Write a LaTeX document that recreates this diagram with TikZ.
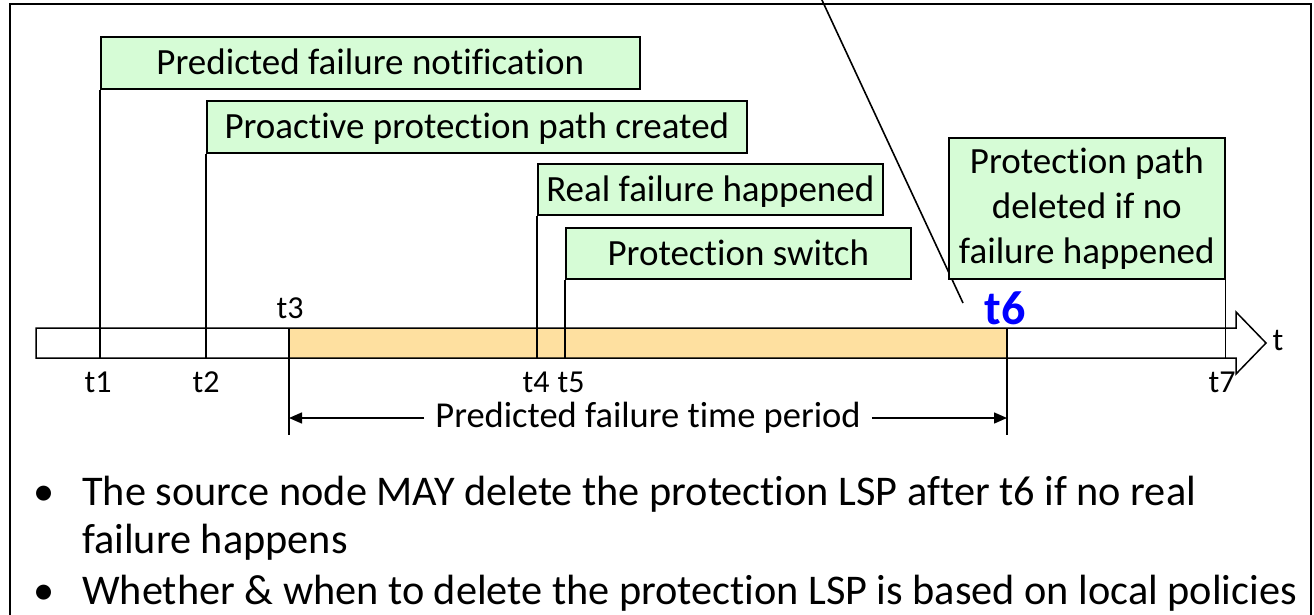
\documentclass[tikz,border=0pt]{standalone}
\usepackage{fontspec}
\setmainfont{Carlito}[Ligatures={NoCommon,NoContextual}]
\usetikzlibrary{arrows.meta}
\definecolor{boxgreen}{RGB}{214,252,214}
\definecolor{periodfill}{RGB}{254,224,160}
\definecolor{tsix}{RGB}{0,0,255}
\begin{document}
\begin{tikzpicture}[x=1pt,y=-1pt,
  event/.style={draw=black, line width=1.6pt, fill=boxgreen, inner sep=0pt,
    anchor=north west, font=\fontsize{37}{45}\selectfont,
    text height=27pt, text depth=3.2pt},
  eventtall/.style={draw=black, line width=1.6pt, fill=boxgreen, inner sep=0pt,
    anchor=north west, align=center, font=\fontsize{37}{45}\selectfont},
  tick/.style={line width=1.3pt},
  tlabel/.style={inner sep=0pt, font=\fontsize{32}{36}\selectfont},
  bullettext/.style={inner sep=0pt, anchor=base west, font=\fontsize{42.3}{48}\selectfont}]
\useasboundingbox (0,0) rectangle (1314,615);

% outer frame, open at the bottom
\draw[line width=1.5pt] (10,620) -- (10,4) -- (1311,4) -- (1311,620);

% pointer line from above
\coordinate (ptop) at (821,-2);
\coordinate (pend) at (963,303);
\draw[line width=1.6pt] (ptop) -- (pend);

% event boxes
\node[event, minimum width=539pt, minimum height=52pt] (b1) at (100,36) {Predicted failure notification};
\node[event, minimum width=540pt, minimum height=52pt] (b2) at (206,100) {Proactive protection path created};
\node[event, minimum width=345pt, minimum height=51pt] (b3) at (537,163) {Real failure happened};
\node[event, minimum width=345pt, minimum height=51pt] (b4) at (565,227) {Protection switch};
\node[eventtall, minimum width=276pt, minimum height=141pt] (b5) at (948,137) {Protection path\\deleted if no\\failure happened};

% time axis
\coordinate (bartop) at (0,328);
\coordinate (barbot) at (0,358);
\coordinate (t3) at (289,328);
\coordinate (t6) at (1007,328);
\fill[periodfill] (t3) rectangle (1007,358);
\draw[line width=1.5pt, line join=miter]
  (36,328) -- (1236,328) -- (1236,312) -- (1266,343) -- (1236,374)
  -- (1236,358) -- (36,358) -- cycle;

% event ticks
\draw[tick] (b1.south west) -- (b1.south west |- barbot);
\draw[tick] (b2.south west) -- (b2.south west |- barbot);
\draw[tick] (b3.south west) -- (b3.south west |- barbot);
\draw[tick] (b4.south west) -- (b4.south west |- barbot);
\draw[tick] (b5.south east) -- (b5.south east |- barbot);
\coordinate (t3b) at (289,435);
\coordinate (t6b) at (1007,435);
\draw[tick] (t3) -- (t3b);
\draw[tick] (t6) -- (t6b);

% tick labels
\node[tlabel] (l1) at (98,382) {t1};
\node[tlabel] (l2) at (206,382) {t2};
\node[tlabel] (l3) at (290,308) {t3};
\node[tlabel] (l4) at (536,382) {t4};
\node[tlabel] (l5) at (571,382) {t5};
\node[tlabel] (l7) at (1222,382) {t7};
\node[tlabel] (lt) at (1278,340) {t};
\node[inner sep=0pt, text=tsix, font=\fontsize{48}{52}\selectfont\bfseries] (l6) at (1005,308) {t6};

% predicted period span
\node[inner xsep=11pt, inner ysep=0pt, font=\fontsize{36.5}{40}\selectfont] (per) at (648,418) {Predicted failure time period};
\draw[line width=1.5pt, -{Triangle[length=13pt,width=11pt]}] (per.west) -- (per.west -| t3b);
\draw[line width=1.5pt, -{Triangle[length=13pt,width=11pt]}] (per.east) -- (per.east -| t6b);

% notes
\node[bullettext] (d1) at (33,505) {•};
\node[bullettext] (n1) at (82,505) {The source node MAY delete the protection LSP after t6 if no real};
\node[bullettext] (n1b) at (82,553) {failure happens};
\node[bullettext] (d2) at (33,604) {•};
\node[bullettext] (n2) at (82,604) {Whether \& when to delete the protection LSP is based on local policies};
\end{tikzpicture}
\end{document}
